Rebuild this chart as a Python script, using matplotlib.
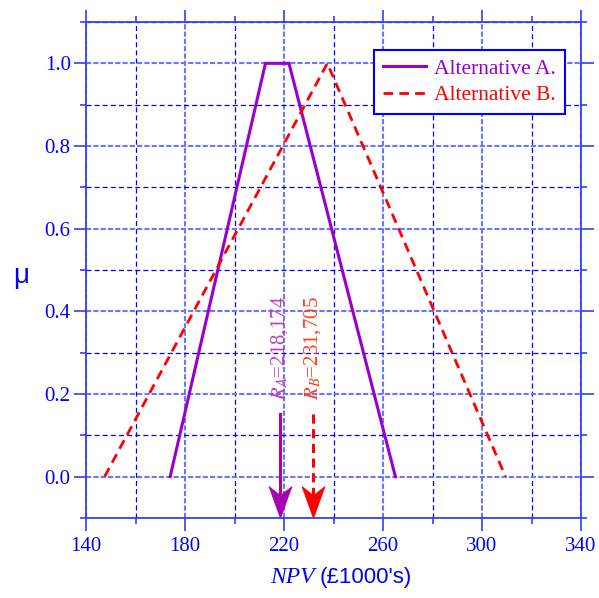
"""Fuzzy NPV membership functions for two alternatives with centroid markers."""

import matplotlib
matplotlib.use("Agg")
import matplotlib.pyplot as plt
from matplotlib.path import Path
from matplotlib.ticker import MultipleLocator

# Membership function break points (NPV in £1000's, membership mu)
npv_a = [174, 212.5, 222, 265]
mu_a = [0, 1, 1, 0]
npv_b = [147.5, 237.5, 309.5]
mu_b = [0, 1, 0]

# Centroid (ranking) values
r_a = 218.174
r_b = 231.705
label_a = r"$R_A$=218,174"
label_b = r"$R_B$=231,705"

x_ticks = [140, 180, 220, 260, 300, 340]
y_ticks = [0.0, 0.2, 0.4, 0.6, 0.8, 1.0]

plt.rcParams["font.family"] = ["Liberation Serif", "DejaVu Serif"]
plt.rcParams["mathtext.fontset"] = "stix"

purple = "#9900cc"
red = "#ff0000"
blue = "#0000ff"

# notched arrow head, tip at the origin pointing down
head_path = Path([(0, 0), (-0.36, 1.0), (0, 0.72), (0.36, 1.0), (0, 0)],
                 [Path.MOVETO, Path.LINETO, Path.LINETO, Path.LINETO, Path.CLOSEPOLY])

fig = plt.figure(figsize=(5.99, 5.98), dpi=100)
ax = fig.add_axes([0.1436, 0.1338, 0.8264, 0.8294])

ax.set_xlim(140, 340)
ax.set_ylim(-0.1, 1.1)
ax.set_xticks(x_ticks)
ax.set_yticks(y_ticks)
ax.set_yticklabels([f"{v:.1f}" for v in y_ticks])
ax.xaxis.set_minor_locator(MultipleLocator(20))
ax.yaxis.set_minor_locator(MultipleLocator(0.1))

# Grid: major lighter and thicker, minor darker and thin
ax.grid(True, which="major", color="#6a78ff", lw=1.5, ls=(0, (2.5, 1)))
ax.grid(True, which="minor", color=blue, lw=0.9, ls=(0, (4, 2.5)))
ax.set_axisbelow(True)

for sp in ax.spines.values():
    sp.set_color("#3040ff")
    sp.set_linewidth(1.3)

ax.tick_params(which="both", direction="out", top=True, right=True,
               color="#3040ff", width=1.2, labelcolor=blue, labelsize=15)
ax.tick_params(which="major", length=9)
ax.tick_params(which="minor", length=4.5)
ax.tick_params(axis="x", pad=5)
ax.tick_params(axis="y", pad=2)

ax.plot(npv_a, mu_a, color=purple, lw=2.2, label="Alternative A.", solid_joinstyle="miter")
ax.plot(npv_b, mu_b, color=red, lw=2.0, ls=(0, (3.5, 2.2)), label="Alternative B.")

# Centroid arrows: shaft from label down to the bottom spine, notched heads
arrow_top = 0.152
shaft_end = -0.07
ax.plot([r_a, r_a], [arrow_top, shaft_end], color="#aa00b4", lw=2.2)
ax.plot([r_b, r_b], [arrow_top, shaft_end], color=red, lw=2.2, ls=(0, (3, 1.8)))
ax.plot([r_a], [-0.1], marker=head_path, ms=46, color="#aa00b4", mew=0.5,
        ls="none", clip_on=False)
ax.plot([r_b], [-0.1], marker=head_path, ms=46, color=red, mew=0.5,
        ls="none", clip_on=False)
ax.text(r_a, 0.186, label_a, rotation=90, ha="center", va="bottom",
        color="#c43cc4", fontsize=15)
ax.text(r_b, 0.186, label_b, rotation=90, ha="center", va="bottom",
        color="#ff4020", fontsize=15)

leg = ax.legend(loc="upper right", bbox_to_anchor=(0.967, 0.943), fontsize=15.5,
                frameon=True, fancybox=False, handlelength=2.0,
                handletextpad=0.4, borderpad=0.4, labelspacing=0.3,
                borderaxespad=0)
leg.get_frame().set_edgecolor(blue)
leg.get_frame().set_linewidth(1.5)
leg.get_frame().set_alpha(1)
for txt, col in zip(leg.get_texts(), [purple, red]):
    txt.set_color(col)

# Axis labels
fig.text(0.525, 0.025, "NPV", ha="right", va="baseline", fontsize=17,
         style="italic", color=blue)
fig.text(0.533, 0.025, "(£1000's)", ha="left", va="baseline", fontsize=16,
         family=["Liberation Sans", "DejaVu Sans"], color=blue)
fig.text(0.035, 0.538, "μ", ha="center", va="center", fontsize=20,
         family=["Liberation Sans", "DejaVu Sans"], color=blue)

fig.savefig("out.png", dpi=100)
